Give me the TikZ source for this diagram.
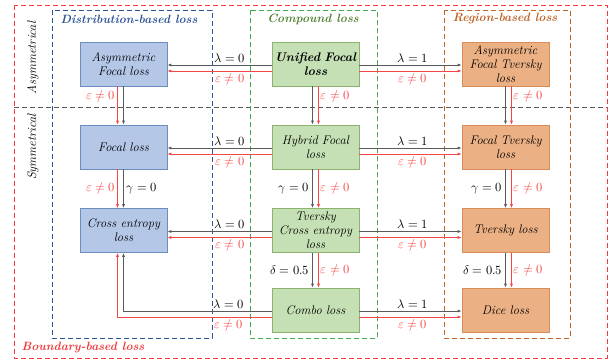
\documentclass[tikz,border=0pt]{standalone}
\usepackage{unicode-math}
\setmathfont{Latin Modern Math}
\usetikzlibrary{arrows.meta}
\definecolor{distfill}{RGB}{180,199,231}
\definecolor{distline}{RGB}{108,142,191}
\definecolor{distdash}{RGB}{47,85,151}
\definecolor{compfill}{RGB}{197,224,180}
\definecolor{compline}{RGB}{140,180,110}
\definecolor{compdash}{RGB}{70,170,70}
\definecolor{regfill}{RGB}{235,176,132}
\definecolor{regline}{RGB}{215,140,90}
\definecolor{regdash}{RGB}{190,100,40}
\definecolor{bounddash}{RGB}{240,60,60}
\definecolor{arrowgrey}{RGB}{90,90,90}
\definecolor{arrowred}{RGB}{245,70,70}
\definecolor{compfont}{RGB}{84,130,53}
\tikzset{
    lossbox/.style={draw,line width=0.6pt,minimum width=87pt,minimum height=44pt,
        text width=85pt,align=center,inner sep=1pt},
    distbox/.style={lossbox,fill=distfill,draw=distline},
    compbox/.style={lossbox,fill=compfill,draw=compline},
    regbox/.style={lossbox,fill=regfill,draw=regline},
    greyarrow/.style={->,draw=arrowgrey,line width=0.9pt},
    redarrow/.style={->,draw=arrowred,line width=0.7pt},
    groupbox/.style={line width=0.9pt,dash pattern=on 5pt off 3pt},
    grouptitle/.style={font=\fontsize{12}{14}\selectfont\bfseries\itshape},
    redlabel/.style={text=arrowred,inner sep=2pt}
}
\begin{document}
\begin{tikzpicture}[x=1pt,y=-1pt,>={Latex[length=4pt,width=3pt]},
    font=\fontsize{12.5}{14}\selectfont\itshape]
    \useasboundingbox (0,0) rectangle (613,362);

    % group frames
    \draw[groupbox,bounddash] (14,5) rectangle (607,358);
    \draw[groupbox,arrowgrey] (14,107) -- (607,107);
    \draw[groupbox,distdash] (52,10) rectangle (212,338);
    \draw[groupbox,compdash] (250,10) rectangle (377,338);
    \draw[groupbox,regdash] (444,10) rectangle (570,338);

    \node[grouptitle,text=distdash] (tdist) at (129,19) {Distribution-based loss};
    \node[grouptitle,text=compfont] (tcomp) at (313,19) {Compound loss};
    \node[grouptitle,text=regdash] (treg) at (505,19) {Region-based loss};
    \node[grouptitle,text=bounddash,anchor=west] (tbound) at (18,348) {Boundary-based loss};
    \node[rotate=90] (tasym) at (33,58) {Asymmetrical};
    \node[rotate=90] (tsym) at (33,147) {Symmetrical};

    % loss functions
    \node[distbox] (afl) at (123.5,64) {Asymmetric\\Focal loss};
    \node[distbox] (fl) at (123.5,147) {Focal loss};
    \node[distbox] (ce) at (123.5,230.5) {Cross entropy\\loss};

    \node[compbox] (ufl) at (315.5,64) {\textbf{Unified Focal}\\\textbf{loss}};
    \node[compbox] (hfl) at (315.5,147) {Hybrid Focal\\loss};
    \node[compbox] (tce) at (315.5,230.5) {Tversky\\Cross entropy\\loss};
    \node[compbox] (cl) at (315.5,310) {Combo loss};

    \node[regbox] (aftl) at (505.5,64) {Asymmetric\\Focal Tversky\\loss};
    \node[regbox] (ftl) at (505.5,147) {Focal Tversky\\loss};
    \node[regbox] (tl) at (505.5,230.5) {Tversky loss};
    \node[regbox] (dl) at (505.5,310) {Dice loss};

    % horizontal links
    \foreach \src/\dst in {ufl/afl,hfl/fl,tce/ce}{
        \draw[greyarrow] ([yshift=-1pt]\src.west) -- node[pos=0.4,above,inner sep=2pt] {$\lambda=0$} ([yshift=-1pt]\dst.east);
        \draw[redarrow] ([yshift=-7pt]\src.west) -- node[pos=0.4,below,redlabel] {$\varepsilon\neq0$} ([yshift=-7pt]\dst.east);
    }
    \foreach \src/\dst in {ufl/aftl,hfl/ftl,tce/tl,cl/dl}{
        \draw[greyarrow] ([yshift=-1pt]\src.east) -- node[pos=0.52,above,inner sep=2pt] {$\lambda=1$} ([yshift=-1pt]\dst.west);
        \draw[redarrow] ([yshift=-7pt]\src.east) -- node[pos=0.52,below,redlabel] {$\varepsilon\neq0$} ([yshift=-7pt]\dst.west);
    }
    \draw[greyarrow] ([yshift=-1pt]cl.west) -| node[pos=0.145,above,inner sep=2pt] {$\lambda=0$} (ce.south);
    \draw[redarrow] ([yshift=-7pt]cl.west) -| node[pos=0.14,below,redlabel] {$\varepsilon\neq0$} ([xshift=-6pt]ce.south);

    % vertical links, distribution-based
    \draw[greyarrow] (afl.south) -- (fl.north);
    \draw[redarrow] ([xshift=-6pt]afl.south) -- node[pos=0.25,left,redlabel] {$\varepsilon\neq0$} ([xshift=-6pt]fl.north);
    \draw[greyarrow] (fl.south) -- node[right,inner sep=3pt] {$\gamma=0$} (ce.north);
    \draw[redarrow] ([xshift=-6pt]fl.south) -- node[left,redlabel] {$\varepsilon\neq0$} ([xshift=-6pt]ce.north);

    % vertical links, compound
    \draw[greyarrow] ([xshift=-3pt]ufl.south) -- ([xshift=-3pt]hfl.north);
    \draw[redarrow] ([xshift=3pt]ufl.south) -- node[pos=0.25,right,redlabel] {$\varepsilon\neq0$} ([xshift=3pt]hfl.north);
    \draw[greyarrow] ([xshift=-3pt]hfl.south) -- node[left,inner sep=3pt] {$\gamma=0$} ([xshift=-3pt]tce.north);
    \draw[redarrow] ([xshift=3pt]hfl.south) -- node[right,redlabel] {$\varepsilon\neq0$} ([xshift=3pt]tce.north);
    \draw[greyarrow] ([xshift=-3pt]tce.south) -- node[left,inner sep=3pt] {$\delta=0.5$} ([xshift=-3pt]cl.north);
    \draw[redarrow] ([xshift=3pt]tce.south) -- node[right,redlabel] {$\varepsilon\neq0$} ([xshift=3pt]cl.north);

    % vertical links, region-based
    \draw[greyarrow] (aftl.south) -- (ftl.north);
    \draw[redarrow] ([xshift=6pt]aftl.south) -- node[pos=0.25,right,redlabel] {$\varepsilon\neq0$} ([xshift=6pt]ftl.north);
    \draw[greyarrow] (ftl.south) -- node[left,inner sep=3pt] {$\gamma=0$} (tl.north);
    \draw[redarrow] ([xshift=6pt]ftl.south) -- node[right,redlabel] {$\varepsilon\neq0$} ([xshift=6pt]tl.north);
    \draw[greyarrow] (tl.south) -- node[left,inner sep=3pt] {$\delta=0.5$} (dl.north);
    \draw[redarrow] ([xshift=6pt]tl.south) -- node[right,redlabel] {$\varepsilon\neq0$} ([xshift=6pt]dl.north);
\end{tikzpicture}
\end{document}
